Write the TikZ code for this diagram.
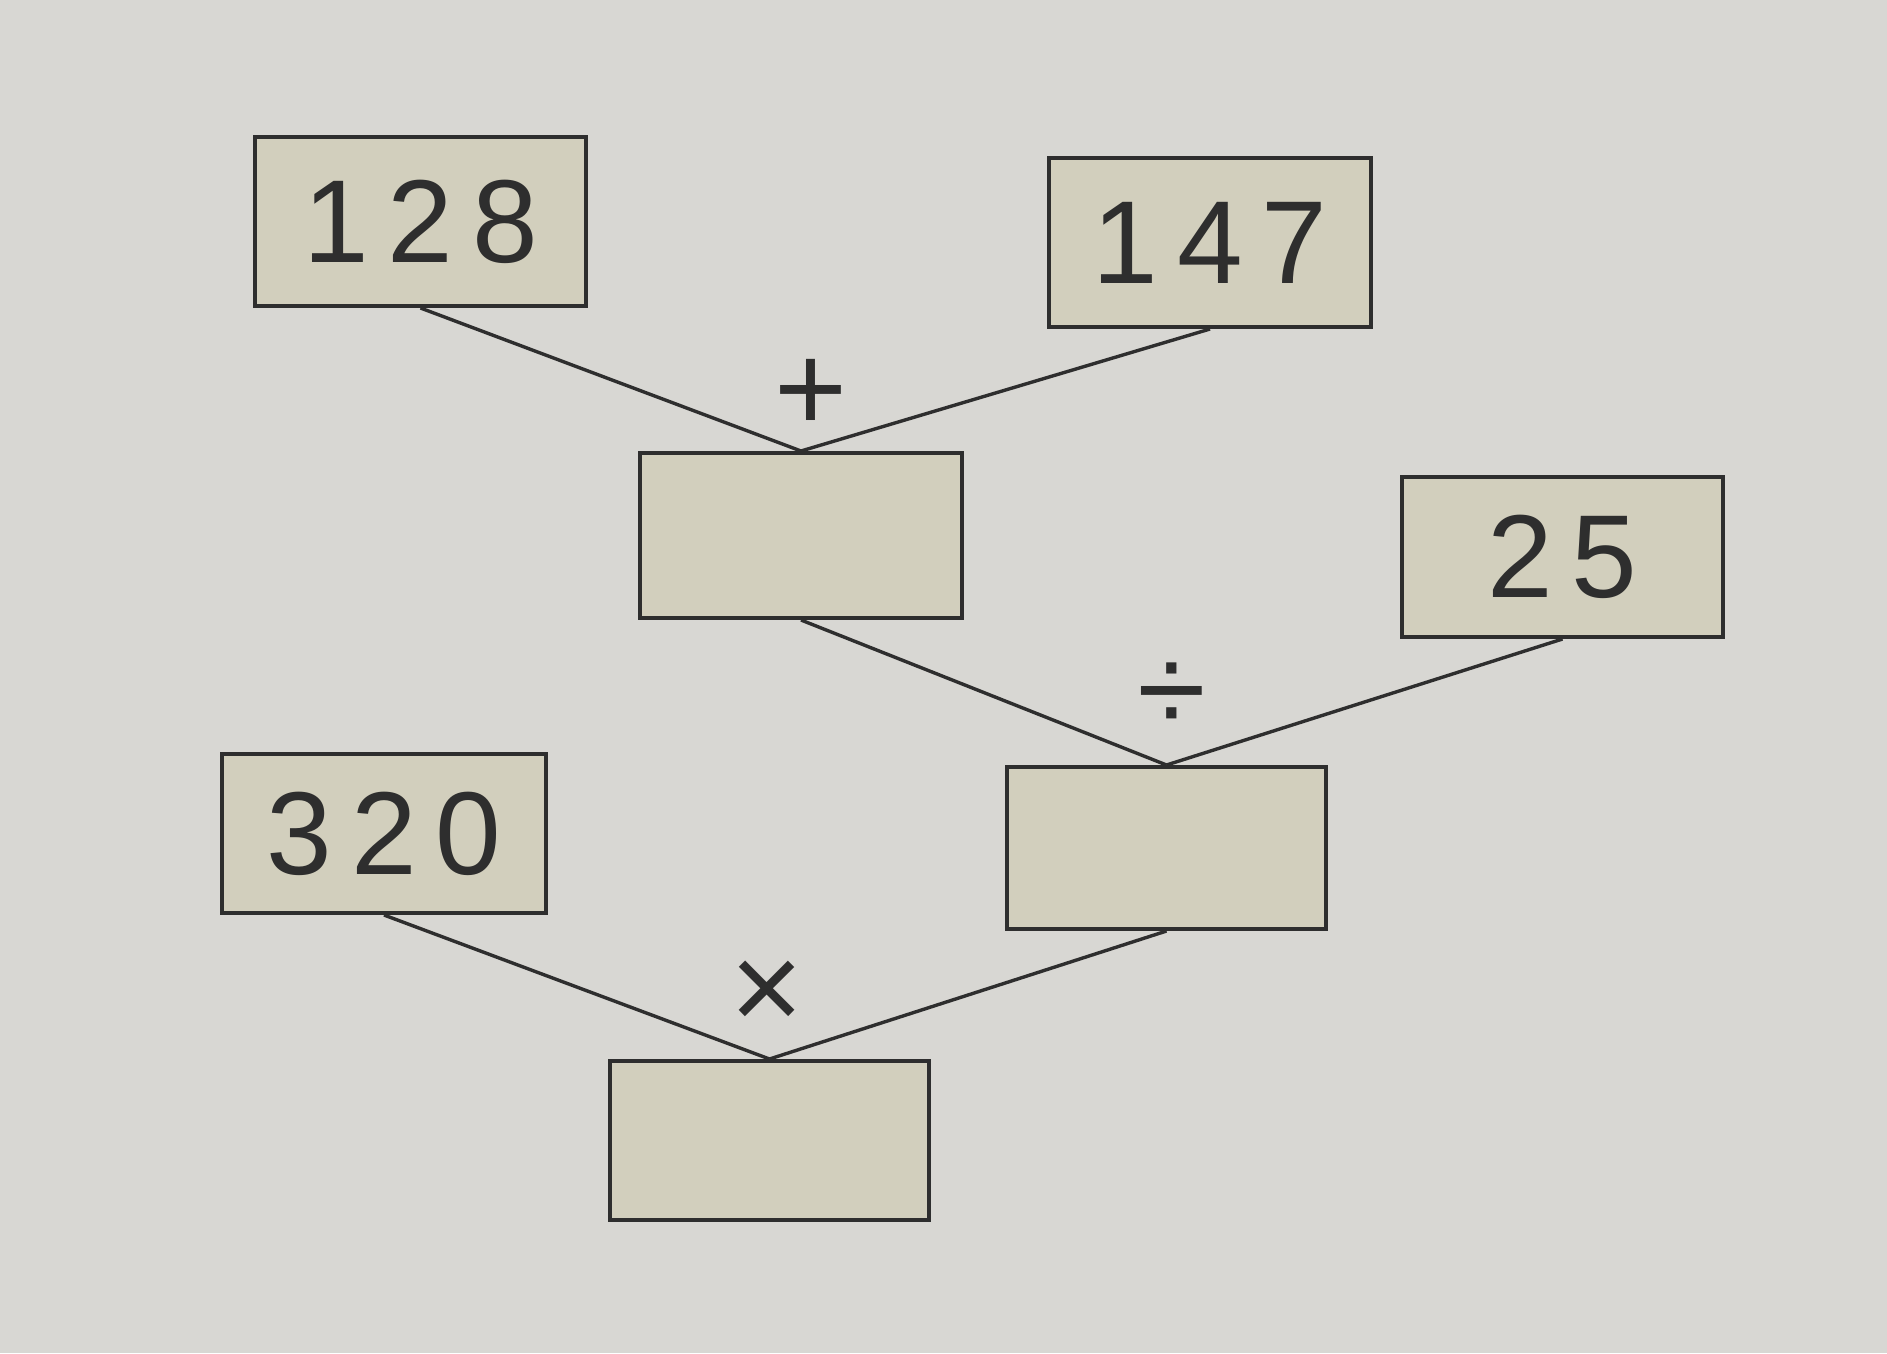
\documentclass[tikz,border=0pt]{standalone}
\usepackage{fontspec}
\setmainfont{Liberation Sans}
\definecolor{paper}{HTML}{D8D7D3}
\definecolor{boxfill}{HTML}{D2CFBD}
\definecolor{ink}{HTML}{2E2E2E}
\begin{document}
\begin{tikzpicture}[x=1pt,y=-1pt,
  numbox/.style={draw=ink,line width=4pt,fill=boxfill,inner sep=0pt,anchor=north west,
    text=ink,font=\fontsize{118}{118}\selectfont\addfontfeature{LetterSpace=16}},
  conn/.style={draw=ink,line width=3.4pt},
  opsym/.style={text=ink,font=\fontsize{125}{125}\selectfont,inner sep=0pt}]
\fill[paper] (0,0) rectangle (1887,1353);
\useasboundingbox (0,0) rectangle (1887,1353);
\node[numbox,minimum width=331pt,minimum height=169pt] (a) at (253,135) {128};
\node[numbox,minimum width=322pt,minimum height=169pt] (b) at (1047,156) {147};
\node[numbox,minimum width=322pt,minimum height=165pt] (s) at (638,451) {};
\node[numbox,minimum width=321pt,minimum height=160pt] (c) at (1400,475) {25};
\node[numbox,minimum width=319pt,minimum height=162pt] (d) at (1005,765) {};
\node[numbox,minimum width=324pt,minimum height=159pt] (e) at (220,752) {320};
\node[numbox,minimum width=319pt,minimum height=159pt] (p) at (608,1059) {};
\draw[conn] (a.south) -- (s.north);
\draw[conn] (b.south) -- (s.north);
\draw[conn] (s.south) -- (d.north);
\draw[conn] (c.south) -- (d.north);
\draw[conn] (e.south) -- (p.north);
\draw[conn] (d.south) -- (p.north);
\node[opsym] (plus) at (811,395) {+};
\node[opsym] (div) at (1172,698) {÷};
\node[opsym] (times) at (767,996) {×};
\end{tikzpicture}
\end{document}
